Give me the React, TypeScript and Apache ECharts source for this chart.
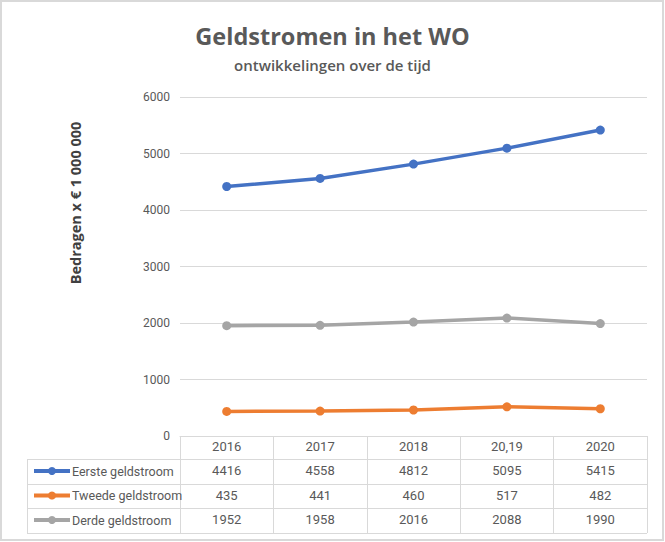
import React, { useEffect, useRef } from "react";
import * as echarts from "echarts";

const categories = ["2016", "2017", "2018", "20,19", "2020"];
const seriesNames = ["Eerste geldstroom", "Tweede geldstroom", "Derde geldstroom"];
const eerste = [4416, 4558, 4812, 5095, 5415];
const tweede = [435, 441, 460, 517, 482];
const derde = [1952, 1958, 2016, 2088, 1990];
const colors = ["#4472C4", "#ED7D31", "#A5A5A5"];
const yTicks = { min: 0, max: 6000, interval: 1000 };

const FONT = "Roboto";
const TXT = "#595959";
const GRID_C = "#d9d9d9";

export default function App() {
  const ref = useRef<HTMLDivElement>(null);
  useEffect(() => {
    document.body.style.margin = "0";
    const chart = echarts.init(ref.current!, null, { renderer: "svg" });
    const values = [eerste, tweede, derde];
    const gridLeft = 180, gridRight = 18, gridTop = 97, gridBottom = 106;
    const rowLines = [459, 484, 508, 533];
    const tableLeft = 27;
    const tableRight = 665 - gridRight;
    const offsets = [24, 48.5, 73];

    const extraAxes = values.map((vals, i) => ({
      type: "category",
      gridIndex: 0,
      position: "bottom",
      offset: offsets[i],
      data: vals.map((v) => String(v)),
      axisLine: { show: false },
      axisTick: { show: false },
      axisLabel: { color: TXT, fontSize: 13, fontFamily: FONT, margin: 4 },
    }));

    chart.setOption({
      animation: false,
      color: colors,
      title: {
        text: "Geldstromen in het WO",
        subtext: "ontwikkelingen over de tijd",
        left: "center",
        top: 19,
        itemGap: 9,
        textStyle: { color: TXT, fontSize: 23.5, fontWeight: "bold", fontFamily: "Open Sans" },
        subtextStyle: { color: TXT, fontSize: 15, fontWeight: 600, fontFamily: "Open Sans" },
      },
      grid: { left: gridLeft, right: gridRight, top: gridTop, bottom: gridBottom, containLabel: false },
      legend: {
        orient: "vertical",
        left: 27,
        top: 459,
        itemWidth: 36,
        itemHeight: 10,
        itemGap: 10.5,
        selectedMode: false,
        lineStyle: { width: 4 },
        textStyle: { color: TXT, fontSize: 12.5, fontFamily: FONT, lineHeight: 14, padding: [0, 0, 0, -3] },
        data: seriesNames,
      },
      xAxis: [
        {
          type: "category",
          data: categories,
          boundaryGap: true,
          axisLine: { show: true, lineStyle: { color: GRID_C, width: 1 } },
          axisTick: { show: true, length: 97, lineStyle: { color: GRID_C, width: 1 } },
          axisLabel: { color: TXT, fontSize: 13, fontFamily: FONT, margin: 4 },
          splitLine: { show: false },
        },
        ...extraAxes,
      ],
      yAxis: {
        type: "value",
        min: yTicks.min,
        max: yTicks.max,
        interval: yTicks.interval,
        axisLine: { show: false },
        axisTick: { show: false },
        axisLabel: { color: TXT, fontSize: 12, fontFamily: FONT, margin: 10, formatter: (v: number) => String(v) },
        splitLine: { lineStyle: { color: GRID_C, width: 1 } },
      },
      series: values.map((vals, i) => ({
        name: seriesNames[i],
        type: "line",
        xAxisIndex: 0,
        data: vals,
        symbol: "circle",
        symbolSize: 9,
        lineStyle: { width: 3.5, color: colors[i] },
        itemStyle: { color: colors[i] },
        z: 10 - i,
      })),
      graphic: [
        {
          type: "rect",
          shape: { x: 1, y: 1, width: 662, height: 539 },
          style: { fill: "none", stroke: GRID_C, lineWidth: 2 },
          silent: true,
        },
        {
          type: "text",
          x: 75,
          y: 203,
          rotation: Math.PI / 2,
          style: {
            text: "Bedragen x € 1 000 000",
            fill: "#404040",
            font: "bold 14.5px 'Open Sans'",
            align: "center",
            verticalAlign: "middle",
          },
        },
        ...rowLines.map((y) => ({
          type: "line",
          shape: { x1: tableLeft, y1: y + 0.5, x2: tableRight, y2: y + 0.5 },
          style: { stroke: GRID_C, lineWidth: 1 },
          silent: true,
        })),
        {
          type: "line",
          shape: { x1: tableLeft + 0.5, y1: rowLines[0], x2: tableLeft + 0.5, y2: rowLines[3] + 1 },
          style: { stroke: GRID_C, lineWidth: 1 },
          silent: true,
        },
      ],
    });
    return () => chart.dispose();
  }, []);
  return <div ref={ref} style={{ width: 665, height: 542, position: "absolute", left: 0, top: 0, background: "#fff" }} />;
}
